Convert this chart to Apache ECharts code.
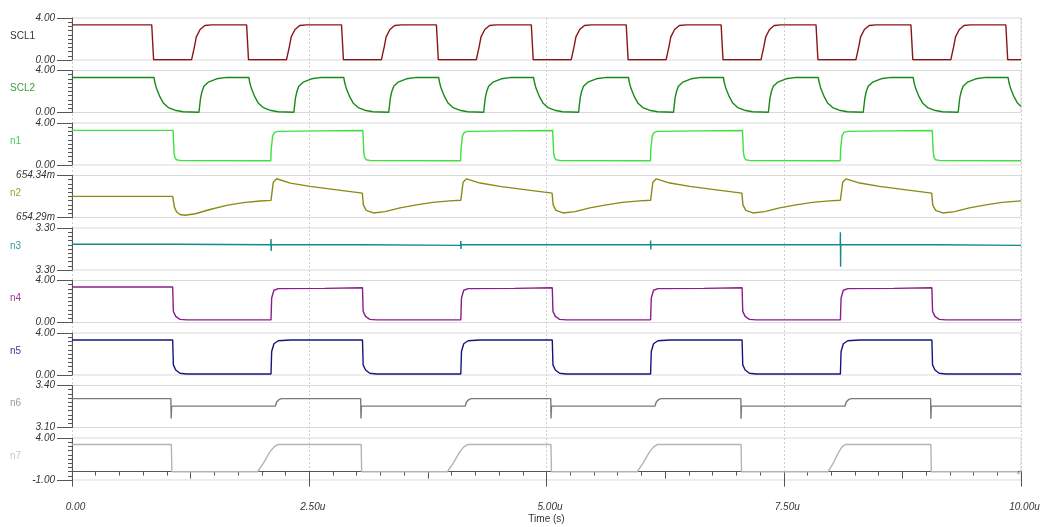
<!DOCTYPE html>
<html><head><meta charset="utf-8">
<script src="https://cdn.jsdelivr.net/npm/echarts@6/dist/echarts.min.js"></script>
<style>html,body{margin:0;padding:0;background:#fff}#c{width:1055px;height:527px}</style>
</head><body><div id="c"></div>
<script>
// ---- data (time in microseconds) ----
const names = ['SCL1','SCL2','n1','n2','n3','n4','n5','n6','n7'];
const yMin = [0, 0, 0, 654.29, 3.296, 0, 0, 3.10, -1];
const yMax = [4, 4, 4, 654.34, 3.304, 4, 4, 3.40, 4];
const ySuffix = ['', '', '', 'm', '', '', '', '', ''];
const xTicks = [0, 2.5, 5, 7.5, 10];
const xMidTicks = [1.25, 3.75, 6.25, 8.75];
const xTitle = 'Time (s)';

const scl1 = [
[0,3.35],
[0.84,3.35],[0.86,0.02],[1.26,0.02],[1.29,1.25],[1.31,2.2],[1.35,2.9],[1.4,3.28],[1.47,3.35],
[1.84,3.35],[1.86,0.02],[2.26,0.02],[2.29,1.25],[2.31,2.2],[2.35,2.9],[2.4,3.28],[2.47,3.35],
[2.84,3.35],[2.86,0.02],[3.26,0.02],[3.29,1.25],[3.31,2.2],[3.35,2.9],[3.4,3.28],[3.47,3.35],
[3.84,3.35],[3.86,0.02],[4.26,0.02],[4.29,1.25],[4.31,2.2],[4.35,2.9],[4.4,3.28],[4.47,3.35],
[4.84,3.35],[4.86,0.02],[5.26,0.02],[5.29,1.25],[5.31,2.2],[5.35,2.9],[5.4,3.28],[5.47,3.35],
[5.84,3.35],[5.86,0.02],[6.26,0.02],[6.29,1.25],[6.31,2.2],[6.35,2.9],[6.4,3.28],[6.47,3.35],
[6.84,3.35],[6.86,0.02],[7.26,0.02],[7.29,1.25],[7.31,2.2],[7.35,2.9],[7.4,3.28],[7.47,3.35],
[7.84,3.35],[7.86,0.02],[8.26,0.02],[8.29,1.25],[8.31,2.2],[8.35,2.9],[8.4,3.28],[8.47,3.35],
[8.84,3.35],[8.86,0.02],[9.26,0.02],[9.29,1.25],[9.31,2.2],[9.35,2.9],[9.4,3.28],[9.47,3.35],
[9.84,3.35],[9.86,0.02],[10,0.02]
];

const scl2 = [
[0,3.34],
[0.864,3.34],[0.872,2.9],[0.89,2.3],[0.927,1.48],[0.962,0.91],[1.015,0.47],[1.085,0.22],[1.17,0.07],[1.338,0.02],[1.345,0.6],[1.355,1.4],[1.37,2.0],[1.39,2.5],[1.436,2.89],[1.525,3.21],[1.63,3.34],
[1.864,3.34],[1.872,2.9],[1.89,2.3],[1.927,1.48],[1.962,0.91],[2.015,0.47],[2.085,0.22],[2.17,0.07],[2.338,0.02],[2.345,0.6],[2.355,1.4],[2.37,2.0],[2.39,2.5],[2.436,2.89],[2.525,3.21],[2.63,3.34],
[2.864,3.34],[2.872,2.9],[2.89,2.3],[2.927,1.48],[2.962,0.91],[3.015,0.47],[3.085,0.22],[3.17,0.07],[3.338,0.02],[3.345,0.6],[3.355,1.4],[3.37,2.0],[3.39,2.5],[3.436,2.89],[3.525,3.21],[3.63,3.34],
[3.864,3.34],[3.872,2.9],[3.89,2.3],[3.927,1.48],[3.962,0.91],[4.015,0.47],[4.085,0.22],[4.17,0.07],[4.338,0.02],[4.345,0.6],[4.355,1.4],[4.37,2.0],[4.39,2.5],[4.436,2.89],[4.525,3.21],[4.63,3.34],
[4.864,3.34],[4.872,2.9],[4.89,2.3],[4.927,1.48],[4.962,0.91],[5.015,0.47],[5.085,0.22],[5.17,0.07],[5.338,0.02],[5.345,0.6],[5.355,1.4],[5.37,2.0],[5.39,2.5],[5.436,2.89],[5.525,3.21],[5.63,3.34],
[5.864,3.34],[5.872,2.9],[5.89,2.3],[5.927,1.48],[5.962,0.91],[6.015,0.47],[6.085,0.22],[6.17,0.07],[6.338,0.02],[6.345,0.6],[6.355,1.4],[6.37,2.0],[6.39,2.5],[6.436,2.89],[6.525,3.21],[6.63,3.34],
[6.864,3.34],[6.872,2.9],[6.89,2.3],[6.927,1.48],[6.962,0.91],[7.015,0.47],[7.085,0.22],[7.17,0.07],[7.338,0.02],[7.345,0.6],[7.355,1.4],[7.37,2.0],[7.39,2.5],[7.436,2.89],[7.525,3.21],[7.63,3.34],
[7.864,3.34],[7.872,2.9],[7.89,2.3],[7.927,1.48],[7.962,0.91],[8.015,0.47],[8.085,0.22],[8.17,0.07],[8.338,0.02],[8.345,0.6],[8.355,1.4],[8.37,2.0],[8.39,2.5],[8.436,2.89],[8.525,3.21],[8.63,3.34],
[8.864,3.34],[8.872,2.9],[8.89,2.3],[8.927,1.48],[8.962,0.91],[9.015,0.47],[9.085,0.22],[9.17,0.07],[9.338,0.02],[9.345,0.6],[9.355,1.4],[9.37,2.0],[9.39,2.5],[9.436,2.89],[9.525,3.21],[9.63,3.34],
[9.864,3.34],[9.872,2.9],[9.89,2.3],[9.927,1.48],[9.962,0.91],[10,0.6]
];

const n1 = [
[0,3.3],
[1.065,3.3],[1.075,1.2],[1.085,0.7],[1.1,0.5],[1.15,0.42],[2.095,0.41],[2.1,1.6],[2.115,2.8],[2.135,3.1],[2.17,3.2],[2.6,3.25],[3.065,3.28],
[3.075,1.2],[3.085,0.7],[3.1,0.5],[3.15,0.42],[4.095,0.41],[4.1,1.6],[4.115,2.8],[4.135,3.1],[4.17,3.2],[4.6,3.25],[5.065,3.28],
[5.075,1.2],[5.085,0.7],[5.1,0.5],[5.15,0.42],[6.095,0.41],[6.1,1.6],[6.115,2.8],[6.135,3.1],[6.17,3.2],[6.6,3.25],[7.065,3.28],
[7.075,1.2],[7.085,0.7],[7.1,0.5],[7.15,0.42],[8.095,0.41],[8.1,1.6],[8.115,2.8],[8.135,3.1],[8.17,3.2],[8.6,3.25],[9.065,3.28],
[9.075,1.2],[9.085,0.7],[9.1,0.5],[9.15,0.42],[10,0.41]
];

const n2 = [
[0,654.3152],[1.061,654.3152],[1.08,654.302],[1.103,654.2966],[1.138,654.2935],[1.19,654.2927],[1.3,654.2945],[1.454,654.2995],[1.63,654.3045],[1.805,654.3077],[1.98,654.3096],[2.097,654.3104],[2.121,654.3321],[2.157,654.3361],[2.3,654.3309],[2.51,654.327],[2.75,654.3235],[3.059,654.319],
[3.07,654.305],[3.1,654.2985],[3.175,654.2954],[3.3,654.297],[3.456,654.3015],[3.63,654.305],[3.8,654.308],[3.98,654.3098],[4.097,654.3105],[4.121,654.332],[4.157,654.336],[4.3,654.331],[4.51,654.327],[4.75,654.3235],[5.059,654.319],
[5.07,654.305],[5.1,654.2985],[5.175,654.2954],[5.3,654.297],[5.456,654.3015],[5.63,654.305],[5.8,654.308],[5.98,654.3098],[6.097,654.3105],[6.121,654.332],[6.157,654.336],[6.3,654.331],[6.51,654.327],[6.75,654.3235],[7.059,654.319],
[7.07,654.305],[7.1,654.2985],[7.175,654.2954],[7.3,654.297],[7.456,654.3015],[7.63,654.305],[7.8,654.308],[7.98,654.3098],[8.097,654.3105],[8.121,654.332],[8.157,654.336],[8.3,654.331],[8.51,654.327],[8.75,654.3235],[9.059,654.319],
[9.07,654.305],[9.1,654.2985],[9.175,654.2954],[9.3,654.297],[9.456,654.3015],[9.63,654.305],[9.8,654.308],[10,654.3098]
];

const n3 = [
[0,3.3009],[1.1,3.3009],[1.12,3.3008],[2.095,3.3008],[2.097,3.3019],[2.099,3.2996],[2.101,3.3008],[3.06,3.3008],[3.08,3.3007],
[4.095,3.3007],[4.097,3.3015],[4.099,3.3000],[4.101,3.3008],[6.095,3.3008],[6.097,3.3016],[6.099,3.2999],[6.101,3.3008],
[8.095,3.3008],[8.097,3.3032],[8.099,3.2966],[8.101,3.3008],[9.1,3.3008],[9.12,3.3007],[10,3.3007]
];

const n4 = [
[0,3.38],[1.061,3.38],[1.068,1.06],[1.093,0.58],[1.138,0.3],[1.21,0.25],[2.097,0.25],[2.104,2.34],[2.128,3.07],[2.174,3.23],[2.66,3.25],[2.68,3.3],[3.061,3.31],
[3.068,1.06],[3.093,0.58],[3.138,0.3],[3.21,0.25],[4.097,0.25],[4.104,2.34],[4.128,3.07],[4.174,3.23],[4.66,3.25],[4.68,3.3],[5.061,3.31],
[5.068,1.06],[5.093,0.58],[5.138,0.3],[5.21,0.25],[6.097,0.25],[6.104,2.34],[6.128,3.07],[6.174,3.23],[6.66,3.25],[6.68,3.3],[7.061,3.31],
[7.068,1.06],[7.093,0.58],[7.138,0.3],[7.21,0.25],[8.097,0.25],[8.104,2.34],[8.128,3.07],[8.174,3.23],[8.66,3.25],[8.68,3.3],[9.061,3.31],
[9.068,1.06],[9.093,0.58],[9.138,0.3],[9.21,0.25],[10,0.25]
];

const n5 = [
[0,3.33],[1.061,3.33],[1.068,0.96],[1.093,0.48],[1.138,0.16],[1.21,0.1],[2.097,0.1],[2.104,2.24],[2.128,2.98],[2.174,3.26],[2.3,3.33],
[3.061,3.33],[3.068,0.96],[3.093,0.48],[3.138,0.16],[3.21,0.1],[4.097,0.1],[4.104,2.24],[4.128,2.98],[4.174,3.26],[4.3,3.33],
[5.061,3.33],[5.068,0.96],[5.093,0.48],[5.138,0.16],[5.21,0.1],[6.097,0.1],[6.104,2.24],[6.128,2.98],[6.174,3.26],[6.3,3.33],
[7.061,3.33],[7.068,0.96],[7.093,0.48],[7.138,0.16],[7.21,0.1],[8.097,0.1],[8.104,2.24],[8.128,2.98],[8.174,3.26],[8.3,3.33],
[9.061,3.33],[9.068,0.96],[9.093,0.48],[9.138,0.16],[9.21,0.1],[10,0.1]
];

const n6 = [
[0,3.306],[1.042,3.306],[1.045,3.164],[1.05,3.253],[2.143,3.253],[2.157,3.282],[2.185,3.301],[2.21,3.306],
[3.042,3.306],[3.045,3.164],[3.05,3.253],[4.143,3.253],[4.157,3.282],[4.185,3.301],[4.21,3.306],
[5.045,3.306],[5.048,3.164],[5.053,3.253],[6.143,3.253],[6.157,3.282],[6.185,3.301],[6.21,3.306],
[7.048,3.306],[7.05,3.162],[7.055,3.253],[8.145,3.253],[8.159,3.282],[8.187,3.301],[8.212,3.306],
[9.048,3.306],[9.05,3.162],[9.055,3.253],[10,3.253]
];

const n7 = [
[0,3.22],[1.047,3.22],[1.052,-0.02],[1.955,-0.02],[1.963,-0.25],[2.016,0.97],[2.086,2.35],[2.129,2.94],[2.167,3.22],
[3.047,3.22],[3.052,-0.02],[3.955,-0.02],[3.963,-0.25],[4.016,0.97],[4.086,2.35],[4.129,2.94],[4.167,3.22],
[5.047,3.22],[5.052,-0.02],[5.955,-0.02],[5.963,-0.25],[6.016,0.97],[6.086,2.35],[6.129,2.94],[6.167,3.22],
[7.05,3.22],[7.055,-0.02],[7.965,-0.02],[7.973,-0.25],[8.02,0.97],[8.08,2.35],[8.115,2.94],[8.15,3.22],
[9.05,3.22],[9.055,-0.02],[9.962,-0.02],[9.97,-0.3],[10,0.18]
];

const seriesData = [scl1, scl2, n1, n2, n3, n4, n5, n6, n7];

// ---- styles / layout ----
const lineColors = ['#8b1414','#178a17','#3fe03f','#8a8a14','#168a8a','#8a1e8a','#141480','#7a7a7a','#b4b4b4'];
const nameColors = ['#333333','#3c9c3c','#4cd04c','#a0a030','#3a9a9a','#9a3a9a','#3a3a9a','#9a9a9a','#c8c8c8'];
const FONT = '"Liberation Sans", Arial, sans-serif';
const L = 72, R = 34, TOP0 = 18, STEP = 52.5, H = 42;
const AX = '#555';

const grids = [], xAxes = [], yAxes = [], minorY = [], series = [], graphics = [];
names.forEach((nm, i) => {
  const top = TOP0 + i * STEP;
  grids.push({left: L, right: R, top: top, height: H, show: true, borderColor: '#d9d9d9', borderWidth: 1, backgroundColor: 'rgba(0,0,0,0)'});
  const last = i === names.length - 1;
  xAxes.push({
    type: 'value', gridIndex: i, min: 0, max: 10, interval: 2.5, show: last,
    axisLine: {show: true, lineStyle: {color: AX, width: 1}},
    axisTick: {show: true, length: 15, lineStyle: {color: AX}},
    minorTick: {show: true, splitNumber: 10, length: 4, lineStyle: {color: AX}},
    axisLabel: {margin: 22, fontStyle: 'italic', fontSize: 10, color: '#333', fontFamily: FONT,
      padding: [0, 0, 0, 7],
      formatter: v => v === 0 ? '0.00' : v.toFixed(2) + 'u'},
    splitLine: {show: false},
    name: last ? xTitle : '', nameLocation: 'middle', nameGap: 34,
    nameTextStyle: {fontSize: 10, color: '#333', fontFamily: FONT}
  });
  const mn = yMin[i], mx = yMax[i], suf = ySuffix[i];
  yAxes.push({
    type: 'value', gridIndex: i, min: mn, max: mx, position: 'left',
    axisLine: {show: true, lineStyle: {color: AX, width: 1}},
    axisTick: {show: true, customValues: [mn, mx], length: 15, lineStyle: {color: AX}},
    axisLabel: {customValues: [mn, mx], margin: 17, fontStyle: 'italic', fontSize: 10, color: '#333', fontFamily: FONT,
      padding: [0, 0, 4, 0], formatter: v => v.toFixed(2) + suf},
    splitLine: {show: false}
  });
  const mv = [];
  for (let j = 0; j <= 10; j++) mv.push(mn + (mx - mn) * j / 10);
  minorY.push({
    type: 'value', gridIndex: i, min: mn, max: mx, position: 'left',
    axisLine: {show: false}, axisLabel: {show: false},
    axisTick: {show: true, customValues: mv, length: 4, lineStyle: {color: AX}},
    splitLine: {show: false}
  });
  series.push({
    type: 'line', name: nm, xAxisIndex: i, yAxisIndex: i, data: seriesData[i],
    showSymbol: false, symbol: 'none', lineStyle: {color: lineColors[i], width: 1.4}, z: 5
  });
  graphics.push({type: 'text', left: 10, top: top + H / 2 - 8,
    style: {text: nm, fill: nameColors[i], font: '10px ' + FONT}});
});

// medium ticks on bottom axis
xAxes.push({type: 'value', gridIndex: names.length - 1, min: 0, max: 10, position: 'bottom',
  axisLine: {show: false}, axisLabel: {show: false}, splitLine: {show: false},
  axisTick: {show: true, customValues: xMidTicks, length: 7, lineStyle: {color: AX}}});
// background grid for dashed vertical guides
grids.push({left: L, right: R, top: TOP0, height: (names.length - 1) * STEP + H, show: false});
const bgIdx = grids.length - 1;
xAxes.push({type: 'value', gridIndex: bgIdx, min: 0, max: 10, interval: 2.5,
  axisLine: {show: false}, axisTick: {show: false}, axisLabel: {show: false},
  splitLine: {show: true, lineStyle: {color: '#cfcfcf', type: [2, 2], width: 1}}});
const allY = yAxes.concat(minorY);
allY.push({type: 'value', gridIndex: bgIdx, min: 0, max: 1, show: false, splitLine: {show: false}});

const chart = echarts.init(document.getElementById('c'), null, {renderer: 'canvas'});
chart.setOption({
  animation: false,
  backgroundColor: '#ffffff',
  grid: grids,
  xAxis: xAxes,
  yAxis: allY,
  series: series,
  graphic: graphics
});
</script>
</body></html>
